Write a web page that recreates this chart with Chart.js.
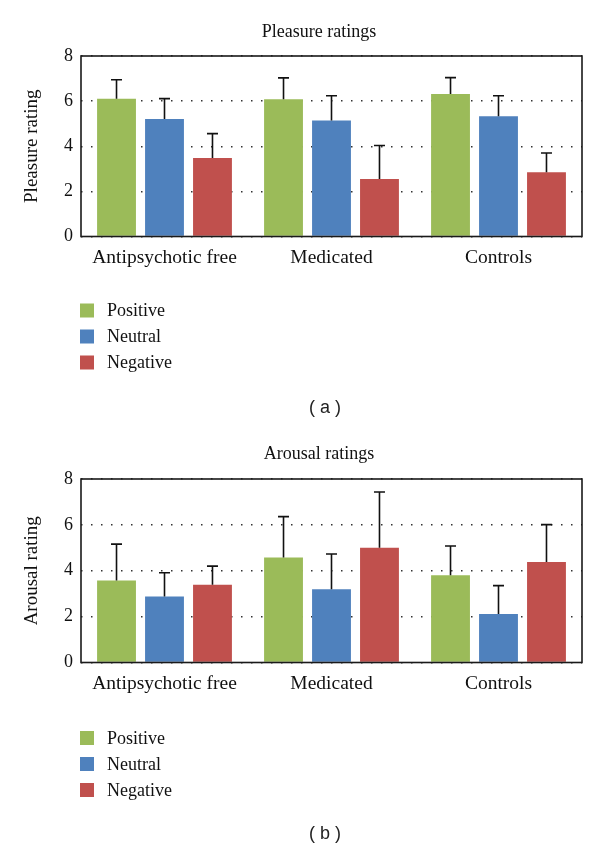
<!DOCTYPE html>
<html>
<head>
<meta charset="utf-8">
<script src="https://cdn.jsdelivr.net/npm/chart.js@4"></script>
<style>
  html, body { margin: 0; padding: 0; background: #fff; }
  canvas { display: block; }
</style>
</head>
<body>
<canvas id="pleasure" width="600" height="426"></canvas>
<canvas id="arousal" width="600" height="426"></canvas>
<script>
const categories = ['Antipsychotic free', 'Medicated', 'Controls'];
const seriesNames = ['Positive', 'Neutral', 'Negative'];
const seriesColors = ['#9BBB59', '#4F81BD', '#C0504D'];
const yTicks = [0, 2, 4, 6, 8];

// pleasure means and upper error (SD)
const pleasurePositive = [6.10, 6.08, 6.32];
const pleasureNeutral = [5.21, 5.14, 5.33];
const pleasureNegative = [3.48, 2.55, 2.85];
const pleasurePositiveErr = [0.85, 0.95, 0.72];
const pleasureNeutralErr = [0.90, 1.10, 0.91];
const pleasureNegativeErr = [1.08, 1.48, 0.85];

// arousal means and upper error (SD)
const arousalPositive = [3.58, 4.58, 3.80];
const arousalNeutral = [2.88, 3.19, 2.11];
const arousalNegative = [3.39, 5.00, 4.38];
const arousalPositiveErr = [1.58, 1.78, 1.28];
const arousalNeutralErr = [1.03, 1.54, 1.24];
const arousalNegativeErr = [0.81, 2.43, 1.63];

const serif = "'Liberation Serif', 'Times New Roman', serif";

// upper error whiskers, drawn from the bar top through the y scale
const errorBars = {
  id: 'errorBars',
  afterDatasetsDraw(chart) {
    const ctx = chart.ctx;
    const yScale = chart.scales.y;
    ctx.save();
    ctx.strokeStyle = '#111';
    ctx.lineWidth = 1.6;
    chart.data.datasets.forEach((ds, i) => {
      const meta = chart.getDatasetMeta(i);
      meta.data.forEach((bar, j) => {
        const top = yScale.getPixelForValue(ds.data[j] + ds.errors[j]);
        ctx.beginPath();
        ctx.moveTo(bar.x, bar.y);
        ctx.lineTo(bar.x, top);
        ctx.moveTo(bar.x - 5.5, top);
        ctx.lineTo(bar.x + 5.5, top);
        ctx.stroke();
      });
    });
    ctx.restore();
  }
};

// box around the plot area
const frame = {
  id: 'frame',
  afterDatasetsDraw(chart) {
    const a = chart.chartArea;
    const ctx = chart.ctx;
    ctx.save();
    ctx.strokeStyle = '#1a1a1a';
    ctx.lineWidth = 1.6;
    ctx.strokeRect(a.left, a.top, a.right - a.left, a.bottom - a.top);
    ctx.restore();
  }
};

// panel title, vertical legend under the plot and the caption
const panelText = {
  id: 'panelText',
  afterDraw(chart, args, opts) {
    const ctx = chart.ctx;
    ctx.save();
    ctx.fillStyle = '#111';
    ctx.font = '18px ' + serif;
    ctx.textAlign = 'center';
    ctx.textBaseline = 'middle';
    ctx.fillText(opts.title, 319, opts.titleY);

    chart.data.datasets.forEach((ds, i) => {
      const cy = opts.firstRow + i * opts.rowGap;
      ctx.fillStyle = ds.backgroundColor;
      ctx.fillRect(80, cy - 7, 14, 14);
      ctx.fillStyle = '#111';
      ctx.textAlign = 'left';
      ctx.fillText(ds.label, 107, cy + 1);
    });

    ctx.font = "18px 'Liberation Sans', Arial, sans-serif";
    ctx.textAlign = 'center';
    ctx.fillStyle = '#222';
    ctx.fillText(opts.caption, 325, opts.captionY);
    ctx.restore();
  }
};

function makeChart(id, title, yLabel, values, errors, o) {
  return new Chart(document.getElementById(id), {
    type: 'bar',
    data: {
      labels: categories,
      datasets: seriesNames.map((name, i) => ({
        label: name,
        data: values[i],
        errors: errors[i],
        backgroundColor: seriesColors[i],
        borderWidth: 0,
        barPercentage: 0.81,
        categoryPercentage: 0.862
      }))
    },
    options: {
      responsive: false,
      animation: false,
      layout: { padding: { left: 0, right: 18, top: o.plotTop, bottom: 149.5 } },
      plugins: {
        legend: { display: false },
        tooltip: { enabled: false },
        title: { display: false },
        panelText: {
          title: title, titleY: o.titleY,
          firstRow: o.firstRow, rowGap: 26,
          caption: o.caption, captionY: 408
        }
      },
      scales: {
        x: {
          grid: { display: false },
          border: { display: false },
          ticks: { color: '#111', font: { family: serif, size: 19.5 }, padding: 2 },
          afterFit: s => { s.height = 40; }
        },
        y: {
          min: 0,
          max: 8,
          afterBuildTicks: s => { s.ticks = yTicks.map(v => ({ value: v })); },
          grid: {
            color: '#333',
            lineWidth: 1.5,
            drawTicks: false
          },
          border: { display: false, dash: [1.5, 8.5] },
          ticks: { color: '#111', font: { family: serif, size: 18 }, padding: 8 },
          title: {
            display: true,
            text: yLabel,
            color: '#111',
            font: { family: serif, size: 19 },
            padding: { top: 21, bottom: 0 }
          },
          afterFit: s => { s.width = 81; }
        }
      }
    },
    plugins: [errorBars, frame, panelText]
  });
}

makeChart('pleasure', 'Pleasure ratings', 'Pleasure rating',
  [pleasurePositive, pleasureNeutral, pleasureNegative],
  [pleasurePositiveErr, pleasureNeutralErr, pleasureNegativeErr],
  { plotTop: 56, titleY: 32, firstRow: 310.5, caption: '( a )' });

makeChart('arousal', 'Arousal ratings', 'Arousal rating',
  [arousalPositive, arousalNeutral, arousalNegative],
  [arousalPositiveErr, arousalNeutralErr, arousalNegativeErr],
  { plotTop: 53, titleY: 28, firstRow: 312, caption: '( b )' });
</script>
</body>
</html>
